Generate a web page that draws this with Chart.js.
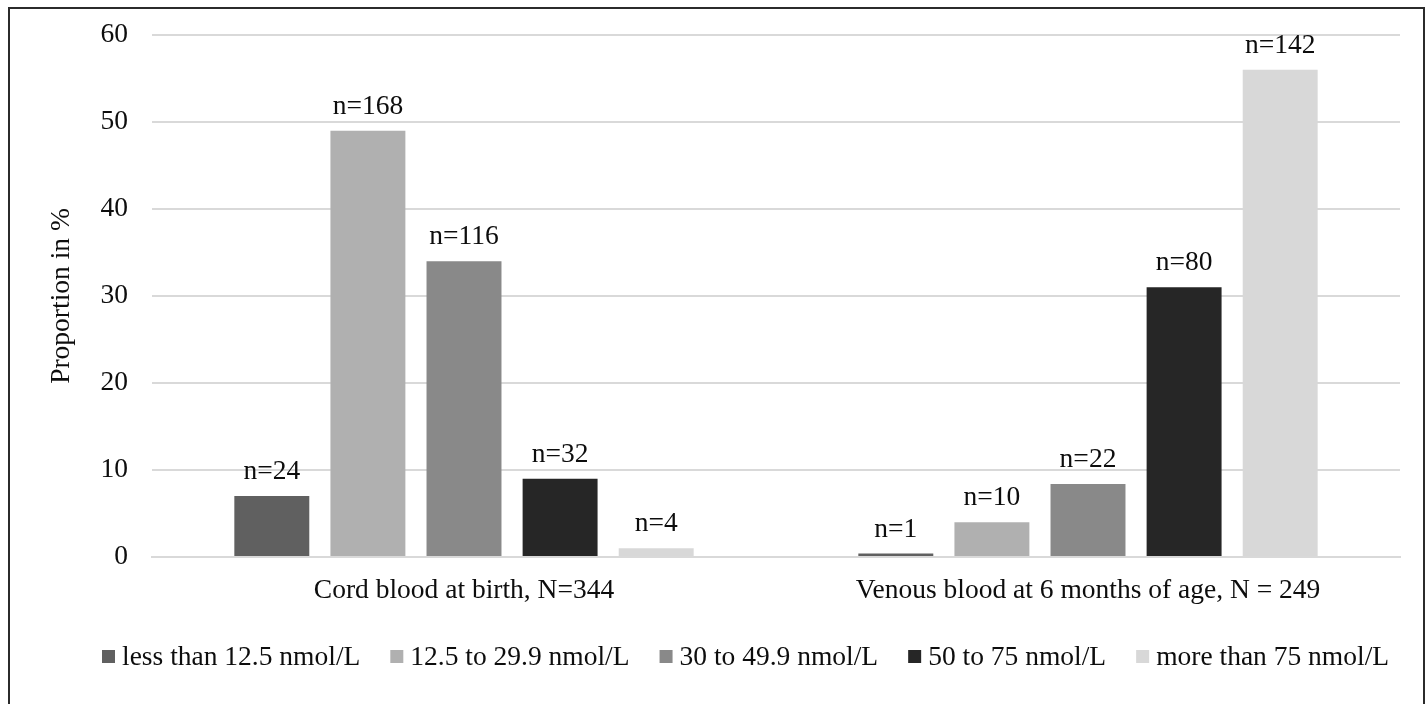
<!DOCTYPE html>
<html>
<head>
<meta charset="utf-8">
<script src="https://cdn.jsdelivr.net/npm/chart.js@4.4.1/dist/chart.umd.min.js"></script>
<style>
  html, body { margin: 0; padding: 0; background: #fff; }
  #wrap { position: relative; width: 1428px; height: 704px; overflow: hidden; }
  #frame { position: absolute; left: 8px; top: 7px; width: 1417px; height: 720px; border: 2px solid #2b2b2b; box-sizing: border-box; pointer-events: none; }
  canvas { position: absolute; left: 0; top: 0; }
</style>
</head>
<body>
<div id="wrap">
  <canvas id="c" width="1428" height="704"></canvas>
  <div id="frame"></div>
</div>
<script>
const categories = ["Cord blood at birth, N=344", "Venous blood at 6 months of age, N = 249"];
const seriesNames = ["less than 12.5 nmol/L", "12.5 to 29.9 nmol/L", "30 to 49.9 nmol/L", "50 to 75 nmol/L", "more than 75 nmol/L"];
const seriesColors = ["#606060", "#b0b0b0", "#898989", "#262626", "#d8d8d8"];
const lessThan12_5 = [7, 0.4];
const from12_5to29_9 = [49, 4];
const from30to49_9 = [34, 8.4];
const from50to75 = [9, 31];
const moreThan75 = [1, 56];
const countsLessThan12_5 = ["n=24", "n=1"];
const counts12_5to29_9 = ["n=168", "n=10"];
const counts30to49_9 = ["n=116", "n=22"];
const counts50to75 = ["n=32", "n=80"];
const countsMoreThan75 = ["n=4", "n=142"];
const yTicks = [0, 10, 20, 30, 40, 50, 60];

const seriesValues = [lessThan12_5, from12_5to29_9, from30to49_9, from50to75, moreThan75];
const seriesCounts = [countsLessThan12_5, counts12_5to29_9, counts30to49_9, counts50to75, countsMoreThan75];

const FONT = "'Liberation Serif', 'Times New Roman', serif";
const FS = 27.5;

const countLabels = {
  id: 'countLabels',
  afterDatasetsDraw(chart) {
    const ctx = chart.ctx;
    ctx.save();
    ctx.font = FS + "px " + FONT;
    ctx.fillStyle = "#0d0d0d";
    ctx.textAlign = "center";
    ctx.textBaseline = "alphabetic";
    chart.data.datasets.forEach((ds, i) => {
      const meta = chart.getDatasetMeta(i);
      meta.data.forEach((bar, j) => {
        ctx.fillText(seriesCounts[i][j], bar.x, bar.y - 17);
      });
    });
    ctx.restore();
  }
};

const customLegend = {
  id: 'customLegend',
  afterDraw(chart) {
    const ctx = chart.ctx;
    ctx.save();
    ctx.font = FS + "px " + FONT;
    ctx.textBaseline = "middle";
    ctx.textAlign = "left";
    const y = 657;
    let x = 102;
    chart.data.datasets.forEach((ds) => {
      ctx.fillStyle = ds.backgroundColor;
      ctx.fillRect(x, y - 7, 13, 13);
      x += 13 + 7;
      ctx.fillStyle = "#0d0d0d";
      ctx.fillText(ds.label, x, y + 1);
      x += ctx.measureText(ds.label).width + 30;
    });
    ctx.restore();
  }
};

new Chart(document.getElementById('c'), {
  type: 'bar',
  data: {
    labels: categories,
    datasets: seriesNames.map((name, i) => ({
      label: name,
      data: seriesValues[i],
      backgroundColor: seriesColors[i],
      borderWidth: 0,
      categoryPercentage: 0.77,
      barPercentage: 0.78
    }))
  },
  options: {
    responsive: false,
    animation: false,
    devicePixelRatio: 1,
    layout: { padding: { left: 0, right: 28, top: 35, bottom: 0 } },
    plugins: {
      legend: { display: false },
      tooltip: { enabled: false }
    },
    scales: {
      x: {
        grid: { display: false, drawTicks: false },
        border: { display: true, color: '#d9d9d9', width: 2 },
        ticks: { color: '#0d0d0d', font: { family: FONT, size: FS }, padding: 17, maxRotation: 0 },
        afterFit(scale) { scale.height = 147; scale.paddingLeft = 0; scale.paddingRight = 0; }
      },
      y: {
        min: 0, max: 60,
        afterBuildTicks(scale) { scale.ticks = yTicks.map(v => ({ value: v })); },
        grid: { color: '#d9d9d9', lineWidth: 2, drawTicks: false },
        border: { display: false },
        ticks: { color: '#0d0d0d', font: { family: FONT, size: FS }, padding: 24 },
        title: { display: true, text: 'Proportion in %', color: '#0d0d0d', font: { family: FONT, size: FS }, padding: { top: 45, bottom: 0 } },
        afterFit(scale) { scale.width = 152; scale.paddingTop = 0; scale.paddingBottom = 0; }
      }
    }
  },
  plugins: [countLabels, customLegend]
});
</script>
</body>
</html>
